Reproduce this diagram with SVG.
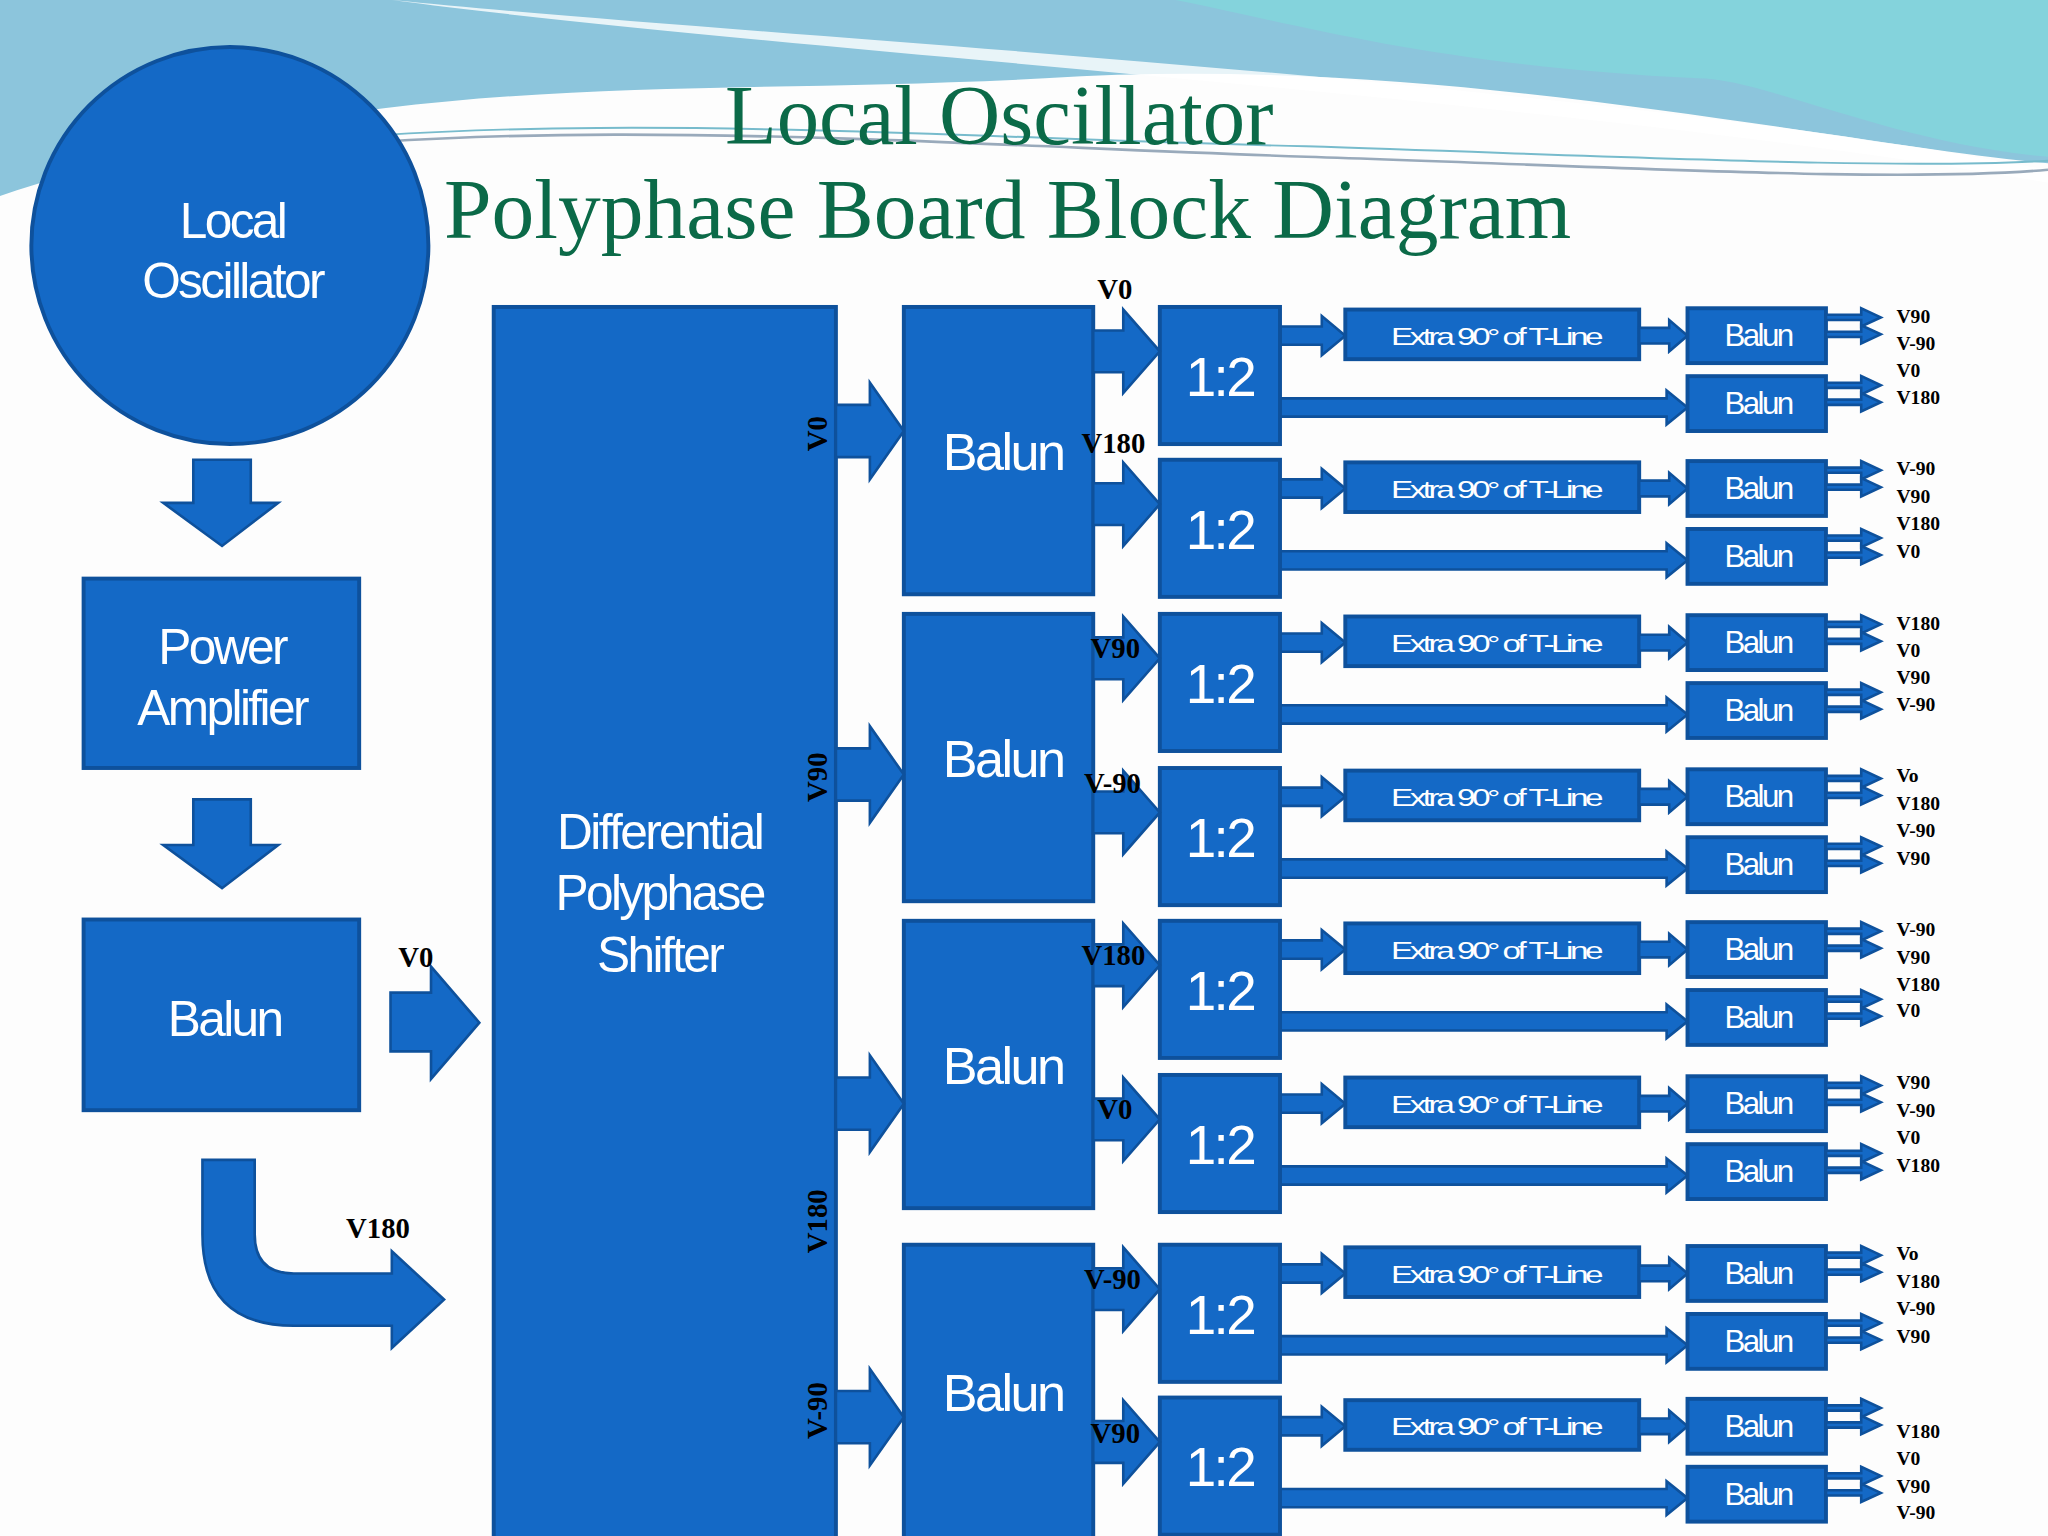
<svg xmlns="http://www.w3.org/2000/svg" width="2048" height="1536" viewBox="0 0 2048 1536">
<style>
.b{fill:#1469c6;stroke:#0e519c;stroke-width:3}
.a{fill:#1469c6;stroke:#0e519c;stroke-width:2}
.w{fill:#fff;font-family:"Liberation Sans",Arial,sans-serif;text-anchor:middle;letter-spacing:-2px}
.l{fill:#000;font-family:"Liberation Serif","Times New Roman",serif;font-weight:bold;font-size:15px}
.lb{fill:#000;font-family:"Liberation Serif","Times New Roman",serif;font-weight:bold;font-size:22px}
.t{fill:#0b6a48;font-family:"Liberation Serif","Times New Roman",serif;font-size:64px}
</style>
<defs>
<g id="row">
<path class="a" d="M980,15 H1012 V7 L1030,22 L1012,37 V29 H980 Z"/>
<rect class="b" x="1030" y="2" width="225" height="38"/>
<text class="w" x="1145" y="29" font-size="19" textLength="160" lengthAdjust="spacingAndGlyphs">Extra 90° of T-Line</text>
<path class="a" d="M1255,16 H1278 V10 L1292,22 L1278,34 V28 H1255 Z"/>
<path class="a" d="M980,70 H1276 V64 L1292,77 L1276,90 V84 H980 Z"/>
<rect class="b" x="1292" y="1" width="106" height="42"/>
<rect class="b" x="1292" y="53" width="106" height="42"/>
<text class="w" x="1346" y="30" font-size="24">Balun</text>
<text class="w" x="1346" y="82" font-size="24">Balun</text>
<path class="a" d="M1398,6 H1425 V1 L1440,8 L1425,15 V10 H1398 Z"/>
<path class="a" d="M1398,19 H1425 V14 L1440,21 L1425,28 V23 H1398 Z"/>
<path class="a" d="M1398,58 H1425 V53 L1440,60 L1425,67 V62 H1398 Z"/>
<path class="a" d="M1398,71 H1425 V66 L1440,73 L1425,80 V75 H1398 Z"/>
<rect class="b" x="888" y="0" width="92" height="105"/>
<text class="w" x="934" y="68" font-size="42" letter-spacing="0">1:2</text>
<path class="a" d="M837,18 H860 V2 L888,34 L860,66 V50 H837 Z"/>
</g>
<path id="sa" class="a" d="M640,-20 H666 V-37 L692,0 L666,37 V20 H640 Z"/>
</defs>
<rect width="2048" height="1536" fill="#fdfdfd"/>
<g transform="scale(1.30612)">
<g id="background">
<path d="M0,0 H1568 V125 C1400,110 1100,40 800,60 C500,75 300,50 0,150 Z" fill="#8cc5dc"/>
<path d="M900,0 H1568 V120 C1450,110 1350,60 1300,60 C1100,50 1000,20 900,0 Z" fill="#84d3dc"/>
<path d="M300,0 C600,30 1200,60 1568,130 L1568,140 C1200,75 600,40 300,0 Z" fill="#ffffff" opacity="0.8"/>
<path d="M130,125 C400,85 700,110 1000,120 C1250,128 1450,140 1568,130" fill="none" stroke="#9ab" stroke-width="2"/>
<path d="M130,120 C400,80 700,105 1000,112 C1250,120 1450,130 1568,123" fill="none" stroke="#7bc" stroke-width="1.5"/>
</g>
<g id="title">
<text class="t" x="555" y="110" textLength="420" lengthAdjust="spacingAndGlyphs">Local Oscillator</text>
<text class="t" x="340" y="182" textLength="863" lengthAdjust="spacingAndGlyphs">Polyphase Board Block Diagram</text>
</g>
<g id="lo"><circle class="b" cx="176" cy="188" r="152"/>
<text class="w" x="178" y="182" font-size="38">Local</text><text class="w" x="178" y="228" font-size="38">Oscillator</text></g>
<g id="pa"><rect class="b" x="64" y="443" width="211" height="145"/>
<text class="w" x="170" y="508" font-size="38">Power</text><text class="w" x="170" y="555" font-size="38">Amplifier</text></g>
<g id="balun0"><rect class="b" x="64" y="704" width="211" height="146"/>
<text class="w" x="172" y="793" font-size="38">Balun</text></g>
<g id="shifter"><rect class="b" x="378" y="235" width="262" height="960"/>
<text class="w" x="505" y="650" font-size="38">Differential</text><text class="w" x="505" y="697" font-size="38">Polyphase</text><text class="w" x="505" y="744" font-size="38">Shifter</text></g>
<g id="baluns">
<rect class="b" x="692" y="235" width="145" height="220"/><text class="w" x="768" y="360" font-size="40">Balun</text>
<rect class="b" x="692" y="470" width="145" height="220"/><text class="w" x="768" y="595" font-size="40">Balun</text>
<rect class="b" x="692" y="705" width="145" height="220"/><text class="w" x="768" y="830" font-size="40">Balun</text>
<rect class="b" x="692" y="953" width="145" height="240"/><text class="w" x="768" y="1080" font-size="40">Balun</text>
</g>
<g id="rows">
<use href="#row" y="235"/><use href="#row" y="352"/><use href="#row" y="470"/><use href="#row" y="588"/>
<use href="#row" y="705"/><use href="#row" y="823"/><use href="#row" y="953"/><use href="#row" y="1070"/>
</g>
<g id="connectors">
<path class="a" d="M148,352 H192 V385 H213 L170,418 L125,385 H148 Z"/>
<path class="a" d="M148,612 H192 V647 H213 L170,680 L125,647 H148 Z"/>
<path class="a" d="M299,760 H330 V740 L367,783 L330,826 V805 H299 Z"/>
<path class="a" d="M155,888 L195,888 L195,945 Q195,975 225,975 L300,975 L300,958 L340,995 L300,1032 L300,1015 L225,1015 Q155,1015 155,945 Z"/>
<use href="#sa" y="330"/><use href="#sa" y="593"/><use href="#sa" y="845"/><use href="#sa" y="1085"/>
</g>
<g id="labels">
<text class="lb" x="305" y="740">V0</text>
<text class="lb" x="265" y="948">V180</text>
<text class="lb" transform="translate(633,332) rotate(-90)" text-anchor="middle">V0</text>
<text class="lb" transform="translate(633,595) rotate(-90)" text-anchor="middle">V90</text>
<text class="lb" transform="translate(633,935) rotate(-90)" text-anchor="middle">V180</text>
<text class="lb" transform="translate(633,1080) rotate(-90)" text-anchor="middle">V-90</text>
<text class="lb" x="840" y="229">V0</text>
<text class="lb" x="828" y="347">V180</text>
<text class="lb" x="835" y="504">V90</text>
<text class="lb" x="830" y="607">V-90</text>
<text class="lb" x="828" y="739">V180</text>
<text class="lb" x="840" y="857">V0</text>
<text class="lb" x="830" y="987">V-90</text>
<text class="lb" x="835" y="1105">V90</text>
<g>
<text class="l" x="1452" y="247">V90</text><text class="l" x="1452" y="268">V-90</text><text class="l" x="1452" y="289">V0</text><text class="l" x="1452" y="309">V180</text>
<text class="l" x="1452" y="364">V-90</text><text class="l" x="1452" y="385">V90</text><text class="l" x="1452" y="406">V180</text><text class="l" x="1452" y="427">V0</text>
<text class="l" x="1452" y="482">V180</text><text class="l" x="1452" y="503">V0</text><text class="l" x="1452" y="524">V90</text><text class="l" x="1452" y="544">V-90</text>
<text class="l" x="1452" y="599">Vo</text><text class="l" x="1452" y="620">V180</text><text class="l" x="1452" y="641">V-90</text><text class="l" x="1452" y="662">V90</text>
<text class="l" x="1452" y="717">V-90</text><text class="l" x="1452" y="738">V90</text><text class="l" x="1452" y="759">V180</text><text class="l" x="1452" y="779">V0</text>
<text class="l" x="1452" y="834">V90</text><text class="l" x="1452" y="855">V-90</text><text class="l" x="1452" y="876">V0</text><text class="l" x="1452" y="897">V180</text>
<text class="l" x="1452" y="965">Vo</text><text class="l" x="1452" y="986">V180</text><text class="l" x="1452" y="1007">V-90</text><text class="l" x="1452" y="1028">V90</text>
<text class="l" x="1452" y="1101">V180</text><text class="l" x="1452" y="1122">V0</text><text class="l" x="1452" y="1143">V90</text><text class="l" x="1452" y="1163">V-90</text>
</g>
</g>
</g>
</svg>
